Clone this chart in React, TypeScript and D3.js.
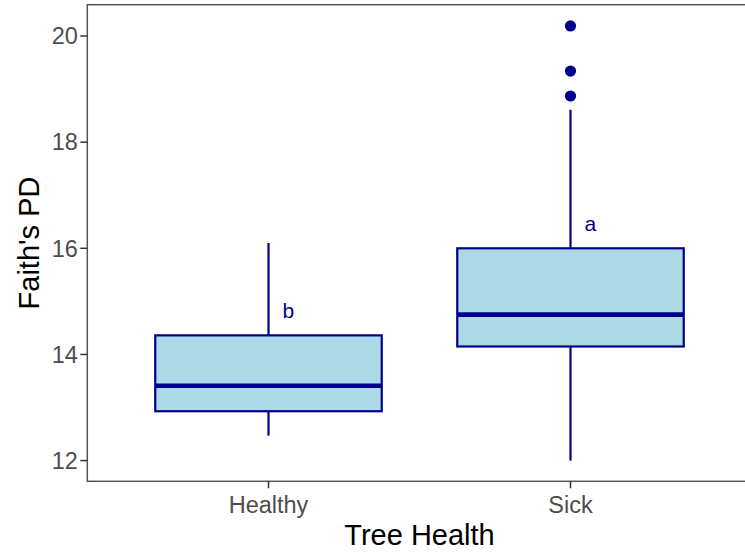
import { useEffect, useRef } from "react";
import * as d3 from "d3";

// box statistics
const groups = ["Healthy", "Sick"];
const lowerWhisker = [12.47, 12.0];
const q1 = [12.93, 14.15];
const median = [13.41, 14.75];
const q3 = [14.36, 16.0];
const upperWhisker = [16.1, 18.61];
const outliers = [[], [18.87, 19.34, 20.19]];
const letters = ["b", "a"];
const letterAt = [14.83, 16.47];
const yTicks = [12, 14, 16, 18, 20];

const W = 745;
const H = 554;

export default function App() {
  const ref = useRef<SVGSVGElement>(null);

  useEffect(() => {
    const svg = d3.select(ref.current);
    svg.selectAll("*").remove();

    const left = 87.3, right = 751.7, top = 4.7, bottom = 481.3;
    const x = d3.scaleLinear().domain([0.4, 2.6]).range([left, right]);
    const y = d3.scaleLinear().domain([11.61, 20.59]).range([bottom, top]);
    const dark = "#00008B";
    const halfBox = x(1.375) - x(1);

    const font = "'Liberation Sans', Arial, sans-serif";

    // boxes
    const g = svg.append("g");
    groups.forEach((name, i) => {
      const cx = x(i + 1);
      g.append("line")
        .attr("x1", cx).attr("x2", cx)
        .attr("y1", y(q3[i])).attr("y2", y(upperWhisker[i]))
        .attr("stroke", dark).attr("stroke-width", 2.2);
      g.append("line")
        .attr("x1", cx).attr("x2", cx)
        .attr("y1", y(q1[i])).attr("y2", y(lowerWhisker[i]))
        .attr("stroke", dark).attr("stroke-width", 2.2);
      g.append("rect")
        .attr("x", cx - halfBox).attr("width", 2 * halfBox)
        .attr("y", y(q3[i])).attr("height", y(q1[i]) - y(q3[i]))
        .attr("fill", "#ADD8E6").attr("stroke", dark).attr("stroke-width", 2.2);
      g.append("line")
        .attr("x1", cx - halfBox).attr("x2", cx + halfBox)
        .attr("y1", y(median[i])).attr("y2", y(median[i]))
        .attr("stroke", dark).attr("stroke-width", 4.6);
      g.selectAll(null).data(outliers[i]).enter().append("circle")
        .attr("cx", cx).attr("cy", (d) => y(d)).attr("r", 5.6)
        .attr("fill", dark);
      g.append("text")
        .attr("x", x(i + 1.066)).attr("y", y(letterAt[i]))
        .attr("dy", "0.35em")
        .attr("text-anchor", "middle")
        .attr("font-family", font).attr("font-size", 21)
        .attr("fill", dark)
        .text(letters[i]);
    });

    // panel border
    svg.append("rect")
      .attr("x", left).attr("y", top)
      .attr("width", right - left).attr("height", bottom - top)
      .attr("fill", "none").attr("stroke", "#555555").attr("stroke-width", 1.5);

    // y axis
    const ya = svg.append("g");
    yTicks.forEach((t) => {
      ya.append("line")
        .attr("x1", left - 7).attr("x2", left)
        .attr("y1", y(t)).attr("y2", y(t))
        .attr("stroke", "#333333").attr("stroke-width", 1.5);
      ya.append("text")
        .attr("x", left - 9.5).attr("y", y(t)).attr("dy", "0.35em")
        .attr("text-anchor", "end")
        .attr("font-family", font).attr("font-size", 23.5)
        .attr("fill", "#4D4D4D")
        .text(t);
    });

    // x axis
    const xa = svg.append("g");
    groups.forEach((name, i) => {
      xa.append("line")
        .attr("x1", x(i + 1)).attr("x2", x(i + 1))
        .attr("y1", bottom).attr("y2", bottom + 7)
        .attr("stroke", "#333333").attr("stroke-width", 1.5);
      xa.append("text")
        .attr("x", x(i + 1)).attr("y", 513)
        .attr("text-anchor", "middle")
        .attr("font-family", font).attr("font-size", 23.5)
        .attr("fill", "#4D4D4D")
        .text(name);
    });

    svg.append("text")
      .attr("x", (left + right) / 2).attr("y", 545)
      .attr("text-anchor", "middle")
      .attr("font-family", font).attr("font-size", 29)
      .attr("fill", "black")
      .text("Tree Health");

    svg.append("text")
      .attr("transform", `translate(38.5, ${(top + bottom) / 2}) rotate(-90)`)
      .attr("text-anchor", "middle")
      .attr("font-family", font).attr("font-size", 29)
      .attr("fill", "black")
      .text("Faith's PD");
  }, []);

  return (
    <svg
      ref={ref}
      width={W}
      height={H}
      style={{ position: "absolute", left: 0, top: 0, background: "white" }}
    />
  );
}
